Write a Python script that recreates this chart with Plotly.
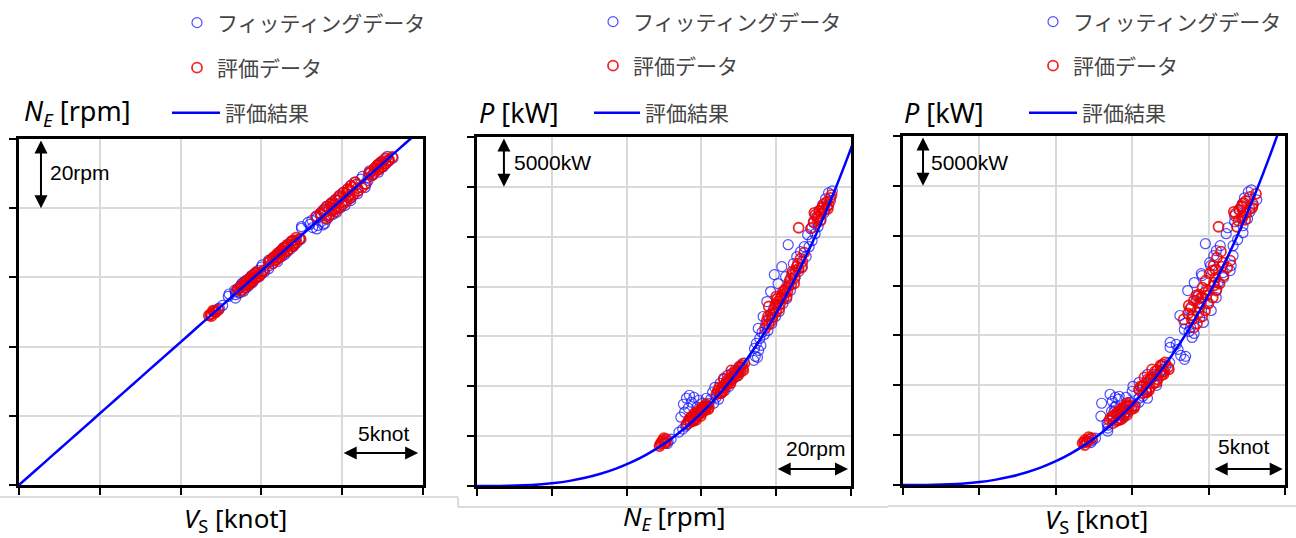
import plotly.graph_objects as go

# ---------------- data ----------------
# fitting data (Vs [knot], NE [rpm], P [kW])
fit_vs = [12.2, 12.4, 12.6, 12.3,
          13.4, 12.95, 13.4, 13.0, 13.65, 13.4, 13.9, 13.35, 13.85, 13.55, 14.05, 13.7, 14.2, 13.75, 14.15, 13.8, 14.45, 13.95, 14.5, 14.1, 14.6, 14.3, 14.9, 14.4, 15.0, 14.6, 15.2, 14.8,
          15.45, 15.0, 15.45, 15.05, 15.7, 15.45, 16.0, 15.45, 15.95, 15.7, 16.25, 15.9, 16.45, 16.0, 16.6, 16.2, 16.8, 16.35, 17.0, 16.6, 17.2, 16.85, 17.45,
          18.42, 17.48, 18.17, 17.48, 18.5, 18.0, 18.92, 17.88, 18.72, 18.12, 19.05, 18.44, 19.18, 18.41, 19.42, 18.63, 19.66, 18.77, 19.52, 18.92, 19.92, 19.06, 20.17, 19.28, 20.13, 19.43, 20.53, 19.57, 20.5, 19.79, 20.63, 19.86, 20.95, 20.07, 20.98, 20.34, 21.41, 20.51, 21.48, 20.76, 18.82,
          21.6, 21.15, 21.6, 21.25, 21.9, 21.7, 22.25, 21.7, 22.25, 22.0, 22.55, 22.2, 22.7, 22.35, 22.9, 22.6, 23.15, 22.8]
fit_ne = [50.4, 51.1, 51.9, 50.9,
          54.0, 54.5, 55.0, 55.2, 55.5, 55.8, 56.0, 56.3, 56.5, 56.8, 57.0, 57.3, 57.5, 57.8, 58.0, 58.3, 58.5, 58.8, 59.0, 59.3, 59.6, 60.0, 60.3, 60.6, 61.0, 61.3, 61.6, 62.0,
          62.5, 63.0, 63.3, 63.6, 64.0, 64.3, 64.6, 65.0, 65.3, 65.6, 66.0, 66.3, 66.6, 67.0, 67.4, 67.8, 68.2, 68.6, 69.0, 69.5, 70.0, 70.5, 71.0,
          74.0, 74.2, 74.4, 74.7, 75.0, 75.3, 75.6, 75.9, 76.2, 76.5, 76.8, 77.2, 77.5, 77.8, 78.2, 78.5, 78.8, 79.2, 79.5, 79.8, 80.2, 80.5, 80.8, 81.2, 81.5, 81.8, 82.2, 82.5, 82.8, 83.2, 83.5, 83.8, 84.2, 84.6, 85.0, 85.5, 86.0, 86.5, 87.0, 87.5, 75.2,
          88.0, 88.4, 88.8, 89.2, 89.6, 90.0, 90.4, 90.8, 91.2, 91.6, 92.0, 92.4, 92.8, 93.2, 93.6, 94.0, 94.5, 95.0]
fit_p = [4350, 4500, 4700, 4250,
         5400, 6900, 5700, 8200, 7400, 6000, 8800, 6200, 7800, 9100, 6500, 8400, 7000, 6600, 8900, 7300, 6800, 7900, 7100, 8600, 7300, 7600, 8300, 7500, 7900, 8800, 8000, 8300,
         8700, 9400, 8300, 9900, 8900, 9500, 8700, 10300, 9300, 9900, 10700, 9600, 10200, 11100, 10000, 10600, 11300, 10800, 11600, 11000, 11900, 11400, 12300,
         12600, 13800, 13000, 14300, 12900, 13600, 14800, 14100, 15400, 17000, 15200, 16200, 18500, 15600, 16800, 19500, 16300, 17600, 21200, 17000, 18200, 20300, 17500, 18900, 22000, 18300, 19600, 21000, 18800, 24200, 20300, 19600, 21300, 22300, 20800, 23000, 21500, 23500, 22000, 24000, 15800,
         23000, 25200, 24000, 25800, 24600, 26400, 25300, 27000, 26000, 27600, 26700, 28200, 27400, 28800, 28000, 29400, 28600, 29600]

# evaluation data (Vs [knot], NE [rpm], P [kW])
eval_vs = [11.9, 11.85, 12.15, 12.05, 12.35, 11.9, 11.75, 12.15, 12.0,
           13.75, 13.5, 13.95, 13.75, 14.2, 14.0, 14.45, 14.25, 14.7, 14.5, 14.95, 14.7, 15.15, 13.7, 14.3, 14.15, 14.8, 14.65, 13.6, 14.15, 14.05, 14.65, 14.55, 15.1, 14.3, 14.35,
           15.7, 15.45, 15.9, 15.7, 16.15, 15.95, 16.4, 16.2, 16.65, 16.4, 16.9, 16.65, 17.1, 16.9, 17.35, 17.15, 15.8, 16.3, 15.95, 16.1, 16.95, 17.0, 15.55, 16.1, 16.0, 16.6, 16.5, 17.05, 16.85, 17.4,
           19.04, 18.37, 19.24, 18.66, 19.58, 18.85, 19.77, 19.04, 19.99, 19.33, 20.27, 19.6, 20.5, 19.8, 20.72, 20.06, 20.98, 20.32, 21.22, 20.54, 21.42, 20.81, 18.7, 19.2, 19.35, 19.5, 20.35, 20.45, 19.75, 20.65,
           19.0, 18.9, 19.5, 19.4, 20.0, 19.85, 20.45, 20.35, 20.95, 20.85, 19.6, 20.25,
           21.95, 21.75, 22.2, 22.0, 22.45, 22.2, 22.7, 22.45, 22.9, 22.7, 21.85, 22.15, 21.65, 22.25, 22.3, 22.85, 23.1, 22.4]
eval_ne = [48.8, 49.3, 49.8, 50.2, 50.6, 49.5, 49.0, 50.0, 50.4,
           56.0, 56.5, 57.0, 57.5, 58.0, 58.5, 59.0, 59.5, 60.0, 60.5, 61.0, 61.5, 62.0, 57.2, 58.2, 59.2, 60.2, 61.2, 56.8, 57.8, 58.8, 59.8, 60.8, 61.8, 58.5, 60.0,
           64.0, 64.5, 65.0, 65.5, 66.0, 66.5, 67.0, 67.5, 68.0, 68.5, 69.0, 69.5, 70.0, 70.5, 71.0, 71.5, 66.0, 68.0, 65.2, 67.2, 69.2, 70.8, 64.8, 65.8, 66.8, 67.8, 68.8, 69.8, 70.2, 71.2,
           77.0, 77.5, 78.0, 78.5, 79.0, 79.5, 80.0, 80.5, 81.0, 81.5, 82.0, 82.5, 83.0, 83.5, 84.0, 84.5, 85.0, 85.5, 86.0, 86.5, 87.0, 87.5, 78.0, 80.0, 79.2, 81.2, 83.2, 85.2, 82.2, 86.0,
           77.8, 78.8, 79.8, 80.8, 81.8, 82.8, 83.8, 84.8, 85.8, 86.8, 80.3, 84.3,
           90.0, 90.5, 91.0, 91.5, 92.0, 92.5, 93.0, 93.5, 94.0, 94.5, 89.5, 92.2, 90.2, 91.2, 92.8, 93.8, 94.8, 91.8]
eval_p = [4000, 4300, 4600, 4400, 4700, 4500, 4200, 4800, 4300,
          6200, 6500, 6400, 6800, 6700, 7100, 7000, 7400, 7300, 7700, 7600, 8000, 7900, 6900, 7300, 7500, 7900, 8200, 6700, 6500, 7300, 7000, 7900, 7700, 6600, 7700,
          9200, 9600, 9400, 9900, 9800, 10300, 10200, 10700, 10600, 11100, 11000, 11500, 11400, 11900, 11800, 12300, 10800, 11600, 9300, 10500, 11300, 12100, 9900, 9500, 10600, 10300, 11400, 11100, 12000, 11600,
          15800, 16600, 16200, 17200, 16900, 17800, 17500, 18500, 18200, 19100, 18800, 19800, 19500, 20500, 20200, 21200, 21000, 22000, 21800, 22800, 22500, 23400, 18000, 19000, 17300, 18800, 20000, 21600, 19300, 25900,
          17000, 16600, 18200, 17800, 19500, 19000, 20800, 20300, 22300, 21900, 18800, 21500,
          26500, 27200, 26800, 27600, 27300, 28000, 27700, 28500, 28200, 28900, 25900, 27900, 27400, 27000, 28300, 27800, 29200, 26600]

# evaluation result curve
curve_vs = [0, 1, 2, 3, 4, 5, 6, 7, 8, 9, 10, 11, 12, 13, 14, 15, 16, 17, 18, 19, 20, 21, 22, 23, 24, 24.5]
curve_ne = [0, 4.13, 8.26, 12.39, 16.52, 20.65, 24.78, 28.91, 33.04, 37.17, 41.3, 45.43, 49.56, 53.69,
            57.82, 61.95, 66.08, 70.21, 74.34, 78.47, 82.6, 86.73, 90.86, 94.99, 99.12, 101.19]
curve_p = [0, 2.4, 19.1, 64.4, 152.7, 298.3, 515.4, 818.4, 1221.6, 1739.4, 2386, 3175.8, 4123, 5242,
           6547, 8053, 9773, 11722, 13915, 16366, 19088, 22097, 25406, 29031, 32984, 35089]

assert len(fit_vs) == len(fit_ne) == len(fit_p)
assert len(eval_vs) == len(eval_ne) == len(eval_p)

label_fit = "フィッティングデータ"
label_eval = "評価データ"
label_res = "評価結果"

# ---------------- layout helpers ----------------
W, H = 1296, 538
def fx(p):
    return p / W
def fy(p):
    return 1 - p / H

JP = "Noto Sans CJK JP"
SANS = "Liberation Sans, Arial"
TITLE = "Noto Sans, Liberation Sans"

BLUE_M = "rgba(20,20,255,0.75)"
RED_M = "rgba(240,0,0,0.85)"

panels = [
    dict(x=fit_vs, y=fit_ne, ex=eval_vs, ey=eval_ne, cx=curve_vs, cy=curve_ne,
         px=(19, 423), py=(139, 485), xr=[0, 25], yr=[0, 100], dx=5, dy=20),
    dict(x=fit_ne, y=fit_p, ex=eval_ne, ey=eval_p, cx=curve_ne, cy=curve_p,
         px=(477, 851), py=(137, 486), xr=[0, 100], yr=[0, 35000], dx=20, dy=5000),
    dict(x=fit_vs, y=fit_p, ex=eval_vs, ey=eval_p, cx=curve_vs, cy=curve_p,
         px=(903, 1285), py=(136, 485), xr=[0, 25], yr=[0, 35000], dx=5, dy=5000),
]

# legend positions (px): marker rows and line row
legend_pos = [
    dict(m=(177, 23, 68), l=(167, 113, 48)),
    dict(m=(593, 22, 66), l=(589, 113, 46)),
    dict(m=(1033, 22, 66), l=(1024, 113, 48)),
]

fig = go.Figure()
layout = dict(width=W, height=H, margin=dict(l=0, r=0, t=0, b=0),
              paper_bgcolor="white", plot_bgcolor="white", showlegend=True,
              annotations=[], shapes=[])

axis_common = dict(showticklabels=False, ticks="outside", ticklen=7, tickwidth=2,
                   tickcolor="black", showline=True, linecolor="black", linewidth=2.5,
                   mirror=True, showgrid=True, gridcolor="#d9d9d9", gridwidth=1.5,
                   zeroline=False, fixedrange=True, tick0=0)

legend_idx = 1
for i, pnl in enumerate(panels):
    sfx = "" if i == 0 else str(i + 1)
    xa, ya = "x" + sfx, "y" + sfx
    lg = legend_pos[i]
    names = []
    for k in range(3):
        names.append("legend" if legend_idx == 1 else "legend%d" % legend_idx)
        legend_idx += 1

    fig.add_trace(go.Scatter(x=pnl["x"], y=pnl["y"], mode="markers", name=label_fit,
                             xaxis=xa, yaxis=ya, legend=names[0],
                             marker=dict(symbol="circle-open", size=10, color=BLUE_M,
                                         line=dict(width=1.2, color=BLUE_M))))
    fig.add_trace(go.Scatter(x=pnl["ex"], y=pnl["ey"], mode="markers", name=label_eval,
                             xaxis=xa, yaxis=ya, legend=names[1],
                             marker=dict(symbol="circle-open", size=10, color=RED_M,
                                         line=dict(width=1.8, color=RED_M))))
    fig.add_trace(go.Scatter(x=pnl["cx"], y=pnl["cy"], mode="lines", name=label_res,
                             xaxis=xa, yaxis=ya, legend=names[2],
                             line=dict(color="rgb(0,0,255)", width=2.5, shape="spline")))

    layout["xaxis" + sfx] = dict(axis_common, domain=[fx(pnl["px"][0]), fx(pnl["px"][1])],
                                 range=pnl["xr"], dtick=pnl["dx"], anchor=ya)
    layout["yaxis" + sfx] = dict(axis_common, domain=[fy(pnl["py"][1]), fy(pnl["py"][0])],
                                 range=pnl["yr"], dtick=pnl["dy"], anchor=xa)

    mx, r1, r2 = lg["m"]
    lx, r3, iw = lg["l"]
    for nm, xpx, ypx, w in [(names[0], mx, r1, 30), (names[1], mx, r2, 30), (names[2], lx, r3, iw)]:
        layout[nm] = dict(x=fx(xpx), y=fy(ypx), xanchor="left", yanchor="middle",
                          bgcolor="rgba(0,0,0,0)", borderwidth=0, itemwidth=w,
                          font=dict(family=JP, size=21, color="#444444"))

# axis titles (above y-axis, below x-axis)
ytitles = [("<i>N</i><sub><i>E</i></sub> [rpm]", 22), ("<i>P</i> [kW]", 477), ("<i>P</i> [kW]", 902)]
for txt, xpx in ytitles:
    layout["annotations"].append(dict(text=txt, x=fx(xpx), y=fy(113), xref="paper", yref="paper",
                                      xanchor="left", yanchor="middle", showarrow=False,
                                      font=dict(family=TITLE, size=27, color="black")))
xtitles = [("<i>V</i><sub>S</sub> [knot]", 235, 519), ("<i>N</i><sub><i>E</i></sub> [rpm]", 674, 517),
           ("<i>V</i><sub>S</sub> [knot]", 1096, 520)]
for txt, xpx, ypx in xtitles:
    layout["annotations"].append(dict(text=txt, x=fx(xpx), y=fy(ypx), xref="paper", yref="paper",
                                      xanchor="center", yanchor="middle", showarrow=False,
                                      font=dict(family=TITLE, size=26, color="black")))

# scale arrows and labels
def arrow(xa, ya, x0, y0, x1, y1):
    return dict(x=x1, y=y1, ax=x0, ay=y0, xref=xa, yref=ya, axref=xa, ayref=ya, text="",
                showarrow=True, arrowhead=2, startarrowhead=2, arrowside="end+start",
                arrowsize=1.3, arrowwidth=2, arrowcolor="black", standoff=0, startstandoff=0)

def label(xa, ya, x, y, txt, anchor):
    return dict(x=x, y=y, xref=xa, yref=ya, text=txt, showarrow=False, xanchor=anchor,
                yanchor="middle", font=dict(family=SANS, size=21, color="black"))

layout["annotations"] += [
    arrow("x", "y", 1.36, 100, 1.36, 80),
    label("x", "y", 1.8, 90.2, "20rpm", "left"),
    arrow("x", "y", 20, 9.25, 24.7, 9.25),
    label("x", "y", 22.6, 15.0, "5knot", "center"),
    arrow("x2", "y2", 7.2, 35000, 7.2, 30000),
    label("x2", "y2", 9.4, 32400, "5000kW", "left"),
    arrow("x2", "y2", 80, 1700, 99.2, 1700),
    label("x2", "y2", 90.6, 3800, "20rpm", "center"),
    arrow("x3", "y3", 1.31, 35000, 1.31, 30000),
    label("x3", "y3", 1.7, 32300, "5000kW", "left"),
    arrow("x3", "y3", 20.3, 1600, 24.85, 1600),
    label("x3", "y3", 22.3, 3900, "5knot", "center"),
]

# faint panel separator lines from the composed figure
sep = dict(type="line", xref="paper", yref="paper", line=dict(color="#d0d0d0", width=1.5))
layout["shapes"] += [
    dict(sep, x0=fx(0), x1=fx(458), y0=fy(497), y1=fy(497)),
    dict(sep, x0=fx(458), x1=fx(888), y0=fy(507), y1=fy(507)),
    dict(sep, x0=fx(458), x1=fx(458), y0=fy(497), y1=fy(507)),
    dict(sep, x0=fx(888), x1=fx(1296), y0=fy(506), y1=fy(506)),
]

fig.update_layout(**layout)
# remove the default 8px page margin so the 1296x538 figure fills the window exactly
fig.write_html("out.html", config={"displayModeBar": False},
               post_script="document.body.style.margin='0';")
